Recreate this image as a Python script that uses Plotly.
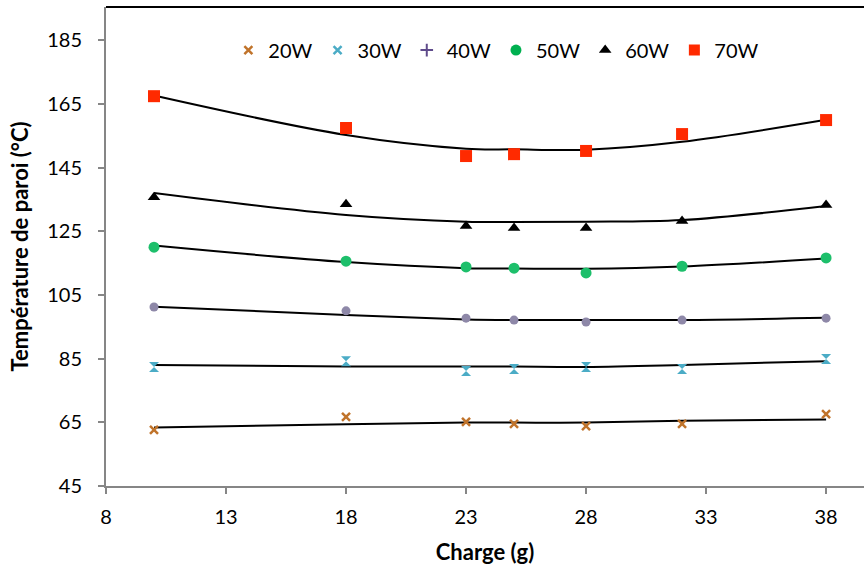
import plotly.graph_objects as go

charge = [10, 18, 23, 25, 28, 32, 38]
series_names = ["20W", "30W", "40W", "50W", "60W", "70W"]
temp_20W = [62.6, 66.7, 65.1, 64.5, 63.8, 64.5, 67.6]
temp_30W = [82.4, 84.2, 81.1, 81.7, 82.4, 81.7, 84.9]
temp_40W = [101.2, 100.0, 97.7, 97.1, 96.5, 97.1, 97.7]
temp_50W = [120.0, 115.6, 113.8, 113.4, 111.9, 114.0, 116.6]
temp_60W = [135.7, 133.5, 126.6, 126.0, 126.0, 128.2, 133.2]
temp_70W = [167.4, 157.4, 148.6, 149.2, 150.2, 155.5, 159.9]

# trend lines
trend_20W = [63.4, 64.4, 64.9, 64.9, 64.9, 65.5, 65.9]
trend_30W = [83.0, 82.5, 82.5, 82.5, 82.4, 83.0, 84.2]
trend_40W = [101.3, 98.7, 97.3, 97.1, 97.1, 97.1, 97.8]
trend_50W = [120.5, 115.3, 113.4, 113.3, 113.2, 113.9, 116.4]
trend_60W = [137.0, 130.1, 128.0, 127.9, 128.0, 128.5, 132.9]
trend_70W = [167.6, 155.2, 150.9, 150.7, 150.6, 153.1, 160.0]

temps = [temp_20W, temp_30W, temp_40W, temp_50W, temp_60W, temp_70W]
trends = [trend_20W, trend_30W, trend_40W, trend_50W, trend_60W, trend_70W]

y_ticks = [45, 65, 85, 105, 125, 145, 165, 185]
x_ticks = [8, 13, 18, 23, 28, 33, 38]

plot_markers = [
    dict(symbol="x-thin", size=8, color="#C0732A", line=dict(width=2.5, color="#C0732A")),
    dict(symbol="hourglass", size=10, color="#4BACC6", line=dict(width=0)),
    dict(symbol="circle", size=9, color="#8E88A8"),
    dict(symbol="circle", size=11, color="#1DBF6B"),
    dict(symbol="triangle-up", size=11, color="#000000"),
    dict(symbol="square", size=12, color="#FF2A00"),
]
legend_markers = [
    dict(symbol="x-thin", size=8, color="#C0732A", line=dict(width=2.5, color="#C0732A")),
    dict(symbol="x-thin", size=8, color="#4BACC6", line=dict(width=2.5, color="#4BACC6")),
    dict(symbol="cross-thin", size=9, color="#5F4B8B", line=dict(width=2, color="#5F4B8B")),
    dict(symbol="circle", size=11, color="#00B050"),
    dict(symbol="triangle-up", size=11, color="#000000"),
    dict(symbol="square", size=11, color="#FF2A00"),
]

fig = go.Figure()
for name, tr in zip(series_names, trends):
    fig.add_trace(go.Scatter(x=charge, y=tr, mode="lines", line=dict(color="black", width=2, shape="spline"),
                             showlegend=False, hoverinfo="skip"))
for name, t, mk in zip(series_names, temps, plot_markers):
    fig.add_trace(go.Scatter(x=charge, y=t, mode="markers", marker=mk, name=name, showlegend=False))
for name, mk in zip(series_names, legend_markers):
    fig.add_trace(go.Scatter(x=[None], y=[None], mode="markers", marker=mk, name=name))

fig.update_layout(
    width=864, height=575,
    margin=dict(l=106, r=0, t=7, b=89),
    paper_bgcolor="white", plot_bgcolor="white",
    font=dict(family="Lato, Open Sans, sans-serif", size=20, color="black"),
    legend=dict(orientation="h", x=0.515, xanchor="center", y=0.91, yanchor="middle",
                font=dict(size=20), itemwidth=30, tracegroupgap=0, bgcolor="rgba(0,0,0,0)"),
    xaxis=dict(range=[8, 39.58], tickvals=x_ticks, ticks="outside", ticklen=6, tickcolor="#868686",
               tickwidth=2, ticklabelstandoff=6,
               showline=True, linecolor="#868686", linewidth=2, showgrid=False, zeroline=False,
               tickfont=dict(size=20),
               title=dict(text="<b>Charge (g)</b>", font=dict(size=22), standoff=18)),
    yaxis=dict(range=[45, 195.4], tickvals=y_ticks, ticks="outside", ticklen=6, tickcolor="#868686",
               tickwidth=2, ticklabelstandoff=12,
               showline=True, linecolor="#868686", linewidth=2, showgrid=False, zeroline=False,
               tickfont=dict(size=20),
               title=dict(text="<b>Température de paroi (°C)</b>", font=dict(size=22), standoff=12)),
    shapes=[dict(type="line", xref="paper", yref="paper", x0=0, x1=1, y0=1, y1=1,
                 line=dict(color="black", width=2))],
)

fig.write_html("out.html")
